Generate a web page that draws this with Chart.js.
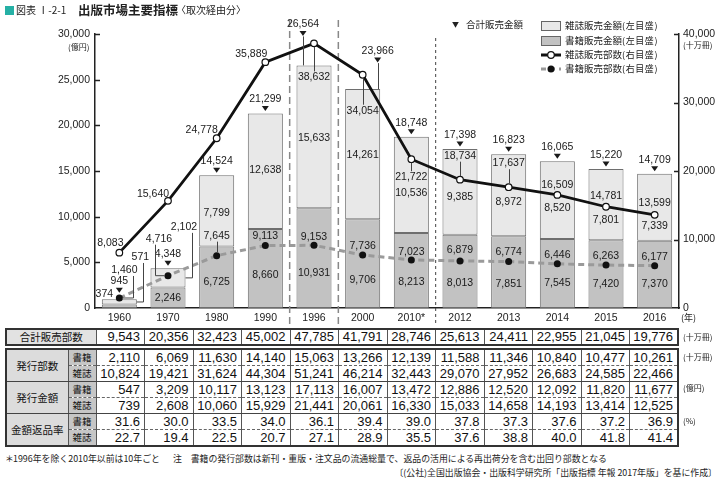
<!DOCTYPE html>
<html lang="ja">
<head>
<meta charset="utf-8">
<script src="https://cdn.jsdelivr.net/npm/chart.js@4/dist/chart.umd.min.js"></script>
<style>
  body { margin: 0; background: #fff; color: #222; font-family: 'Liberation Sans', Arial, 'Noto Sans CJK JP', sans-serif; }
  #wrap { position: relative; width: 720px; height: 481px; overflow: hidden; }
  #chartBox { position: absolute; left: 0; top: 0; width: 720px; height: 326px; }
  .abs { position: absolute; white-space: nowrap; }
  .jp { font-family: 'Noto Sans CJK JP', sans-serif; }
  .tbl { position: absolute; left: 5px; width: 674px; border-collapse: collapse; table-layout: fixed; border: 2px solid #333; font-size: 13px; color: #111; }
  .tbl td { border-left: 1px solid #555; text-align: right; padding: 0 4px 0 0; height: 15px; line-height: 15px; overflow: hidden; }
  .tbl th { font-family: 'Noto Sans CJK JP', sans-serif; font-weight: normal; padding: 0; height: 15px; line-height: 15px; border-left: 1px solid #555; overflow: hidden; }
  #t1 td, #t1 th { height: 14px; line-height: 14px; }
  .tbl th.hd { background: #dcdcdc; font-size: 10.5px; text-align: center; }
  #t1 th.hd { background: #e2e2e2; }
  .tbl th.sub { background: #c6c6c6; font-size: 9.5px; text-align: center; }
  .tbl tr.r1 td, .tbl tr.r1 th.sub { border-bottom: 1px dashed #666; }
  .tbl tr.r2 td, .tbl tr.r2 th, .tbl th.hd { border-bottom: 1px solid #444; }
  .unit { font-family: 'Noto Sans CJK JP', sans-serif; font-size: 8px; line-height: 12px; }
  .leg { font-family: 'Noto Sans CJK JP', sans-serif; font-size: 9.5px; line-height: 13px; }
  .leg small { font-size: 9px; letter-spacing: 0.6px; }
  .note { font-family: 'Noto Sans CJK JP', sans-serif; font-size: 8.9px; line-height: 12px; }
</style>
</head>
<body>
<div id="wrap">
  <div id="chartBox"><canvas id="mainChart"></canvas></div>

  <!-- title -->
  <div class="abs" style="left:5px;top:6px;width:9px;height:9px;background:#25b0a5"></div>
  <div class="abs jp" style="left:16px;top:2px;font-size:10px;line-height:16px">図表 Ⅰ-2-1</div>
  <div class="abs jp" style="left:78px;top:1px;font-size:12.5px;font-weight:bold;line-height:18px">出版市場主要指標</div>
  <div class="abs jp" style="left:176px;top:2px;font-size:10px;line-height:16px">〈取次経由分〉</div>

  <!-- axis units -->
  <div class="abs unit" style="left:68px;top:41px">(億円)</div>
  <div class="abs unit" style="left:683px;top:39px">(十万冊)</div>
  <div class="abs unit" style="left:681px;top:312px;font-size:9px">(年)</div>

  <!-- legend -->
  <div class="abs leg" style="left:452px;top:18px"><span style="font-size:7px;vertical-align:1px">▼</span><span style="margin-left:7px">合計販売金額</span></div>
  <div class="abs" style="left:541px;top:21px;width:18px;height:8px;border:1px solid #666;background:#e8e8e8"></div>
  <div class="abs" style="left:541px;top:36px;width:18px;height:8px;border:1px solid #666;background:#c2c2c2"></div>
  <svg class="abs" style="left:539px;top:49px" width="24" height="26">
    <line x1="2" y1="6" x2="22" y2="6" stroke="#111" stroke-width="3"/>
    <circle cx="12" cy="6" r="3.3" fill="#fff" stroke="#111" stroke-width="1.2"/>
    <line x1="2" y1="20" x2="22" y2="20" stroke="#999" stroke-width="3" stroke-dasharray="5,4"/>
    <circle cx="12" cy="20" r="3.5" fill="#111"/>
  </svg>
  <div class="abs leg" style="left:565px;top:19px">雑誌販売金額<small>(左目盛)</small></div>
  <div class="abs leg" style="left:565px;top:34px">書籍販売金額<small>(左目盛)</small></div>
  <div class="abs leg" style="left:565px;top:48px">雑誌販売部数<small>(右目盛)</small></div>
  <div class="abs leg" style="left:565px;top:62px">書籍販売部数<small>(右目盛)</small></div>

  <!-- tables -->
  <table id="t1" class="tbl" style="top:328px"></table>
  <table id="t2" class="tbl" style="top:348px"></table>
  <div class="abs unit" style="left:683px;top:331px">(十万冊)</div>
  <div class="abs unit" style="left:683px;top:351px">(十万冊)</div>
  <div class="abs unit" style="left:683px;top:382px">(億円)</div>
  <div class="abs unit" style="left:683px;top:415px">(%)</div>

  <!-- notes -->
  <div class="abs note" style="left:5px;top:453px">＊</div>
  <div class="abs note" style="left:13px;top:453px">1996年を除く2010年以前は10年ごと</div>
  <div class="abs note" style="left:173px;top:453px">注　書籍の発行部数は新刊・重版・注文品の流通総量で、返品の活用による再出荷分を含む出回り部数となる</div>
  <div class="abs note" style="right:3px;top:467px">〔(公社)全国出版協会・出版科学研究所「出版指標 年報 2017年版」を基に作成〕</div>
</div>

<script>
// ========= DATA =========
const years = ['1960', '1970', '1980', '1990', '1996', '2000', '2010*', '2012', '2013', '2014', '2015', '2016'];

// 億円 (left axis)
const bookSales = [374, 2246, 6725, 8660, 10931, 9706, 8213, 8013, 7851, 7545, 7420, 7370];
const magazineSales = [571, 2102, 7799, 12638, 15633, 14261, 10536, 9385, 8972, 8520, 7801, 7339];
const totalSales = [945, 4348, 14524, 21299, 26564, 23966, 18748, 17398, 16823, 16065, 15220, 14709];

// 十万冊 (right axis)
const magazineCopies = [8083, 15640, 24778, 35889, 38632, 34054, 21722, 18734, 17637, 16509, 14781, 13599];
const bookCopies = [1460, 4716, 7645, 9113, 9153, 7736, 7023, 6879, 6774, 6446, 6263, 6177];

// table rows
const totalCopies = [9543, 20356, 32423, 45002, 47785, 41791, 28746, 25613, 24411, 22955, 21045, 19776];
const issuedBooks = [2110, 6069, 11630, 14140, 15063, 13266, 12139, 11588, 11346, 10840, 10477, 10261];
const issuedMagazines = [10824, 19421, 31624, 44304, 51241, 46214, 32443, 29070, 27952, 26683, 24585, 22466];
const issuedBookValue = [547, 3209, 10117, 13123, 17113, 16007, 13472, 12886, 12520, 12092, 11820, 11677];
const issuedMagValue = [739, 2608, 10060, 15929, 21441, 20061, 16330, 15033, 14658, 14193, 13414, 12525];
const returnBook = ['31.6', '30.0', '33.5', '34.0', '36.1', '39.4', '39.0', '37.8', '37.3', '37.6', '37.2', '36.9'];
const returnMag = ['22.7', '19.4', '22.5', '20.7', '27.1', '28.9', '35.5', '37.6', '38.8', '40.0', '41.8', '41.4'];

// ========= LABEL PLACEMENT (pixel offsets from anchor, optional leader) =========
const totalMarkPos = [[0, -9], [0, -5], [0, -5], [0, -5], [-11, -32], [15, -29], [0, -5], [0, -5], [0, -5], [0, -5], [0, -5], [0, -5]];
const bookSalesPos = [[-15, -12], [0, 0], [0, 5], [0, 7], [0, 15], [0, 16], [0, 12], [0, 12], [0, 12], [0, 10], [0, 10], [0, 10]];
const magSalesPos = [[21, -45, 'L', 3], [16, -51, 'L', 8], [0, 2], [0, -1], [0, 1], [0, 1], [0, 8], [0, 5], [0, 7], [0, 8], [0, 16], [0, 19]];
const magCopiesPos = [[-9, -10], [-15, -7], [-15, -8], [-14, -8], [0, 34, 'V'], [0, 36, 'V'], [0, 18, 'V'], [0, -24, 'V'], [0, -24, 'V'], [0, -10], [0, -11], [0, -12]];
const bookCopiesPos = [[5, -28, 'L', 9], [-9, -37, 'L', -4], [0, -20, 'V'], [0, -9], [0, -8], [0, -9], [0, -8], [0, -11], [0, -9], [0, -9], [0, -9], [0, -9]];

const fmt = v => typeof v === 'number' ? v.toLocaleString('en-US') : v;

// ========= TABLES =========
function buildTables() {
    const cols = years.map(() => '<col>').join('');
    let h = '<colgroup><col style="width:90px">' + cols + '</colgroup>';
    h += '<tr><th class="hd">合計販売部数</th>' + totalCopies.map(v => `<td>${fmt(v)}</td>`).join('') + '</tr>';
    document.getElementById('t1').innerHTML = h;

    const groups = [
        ['発行部数', issuedBooks, issuedMagazines],
        ['発行金額', issuedBookValue, issuedMagValue],
        ['金額返品率', returnBook, returnMag]
    ];
    let h2 = '<colgroup><col style="width:62px"><col style="width:28px">' + cols + '</colgroup>';
    groups.forEach(g => {
        h2 += `<tr class="r1"><th rowspan="2" class="hd">${g[0]}</th><th class="sub">書籍</th>` +
            g[1].map(v => `<td>${fmt(v)}</td>`).join('') + '</tr>';
        h2 += `<tr class="r2"><th class="sub">雑誌</th>` +
            g[2].map(v => `<td>${fmt(v)}</td>`).join('') + '</tr>';
    });
    document.getElementById('t2').innerHTML = h2;
}

// ========= PLUGINS =========
const separators = {
    id: 'separators',
    beforeDatasetsDraw(chart) {
        const { ctx, scales: { x } } = chart;
        const mid = i => (x.getPixelForValue(i) + x.getPixelForValue(i + 1)) / 2;
        ctx.save();
        ctx.strokeStyle = '#888';
        ctx.lineWidth = 1.5;
        ctx.setLineDash([7, 4]);
        [3, 4].forEach(i => {
            ctx.beginPath();
            ctx.moveTo(mid(i), 20);
            ctx.lineTo(mid(i), 324);
            ctx.stroke();
        });
        ctx.strokeStyle = '#444';
        ctx.lineWidth = 1;
        ctx.setLineDash([3, 3]);
        ctx.beginPath();
        ctx.moveTo(mid(6), 38);
        ctx.lineTo(mid(6), 324);
        ctx.stroke();
        ctx.restore();
    }
};

const innerTicks = {
    id: 'innerTicks',
    afterDraw(chart) {
        const { ctx, scales: { y, y2 } } = chart;
        ctx.save();
        ctx.strokeStyle = '#222';
        ctx.lineWidth = 1.5;
        y.ticks.forEach(t => {
            if (!t.value) return;
            const py = Math.round(y.getPixelForValue(t.value)) + 0.5;
            ctx.beginPath();
            ctx.moveTo(y.right, py);
            ctx.lineTo(y.right + 5, py);
            ctx.stroke();
        });
        y2.ticks.forEach(t => {
            if (!t.value) return;
            const py = Math.round(y2.getPixelForValue(t.value)) + 0.5;
            ctx.beginPath();
            ctx.moveTo(y2.left - 5, py);
            ctx.lineTo(y2.left, py);
            ctx.stroke();
        });
        ctx.restore();
    }
};

function drawLeader(ctx, lx, ly, spec, ax, ay, tx) {
    if (!spec[2]) return;
    ctx.beginPath();
    if (spec[2] === 'V') {
        if (ay > ly) {
            ctx.moveTo(ax, ly + 6);
            ctx.lineTo(ax, ay - 3.5);
        } else {
            ctx.moveTo(ax, ay + 3.5);
            ctx.lineTo(ax, ly - 6);
        }
    } else {
        const vx = Math.round(lx + spec[3]) + 0.5;
        ctx.moveTo(vx, ly + 6);
        ctx.lineTo(vx, ay);
        ctx.lineTo(tx, ay);
    }
    ctx.stroke();
}

const valueLabels = {
    id: 'valueLabels',
    afterDatasetsDraw(chart) {
        const ctx = chart.ctx;
        const bookBars = chart.getDatasetMeta(0).data;
        const magBars = chart.getDatasetMeta(1).data;
        const magPts = chart.getDatasetMeta(2).data;
        const bookPts = chart.getDatasetMeta(3).data;
        ctx.save();
        ctx.font = '10.5px "Liberation Sans", Arial, sans-serif';
        ctx.fillStyle = '#1a1a1a';
        ctx.strokeStyle = '#444';
        ctx.lineWidth = 1;
        ctx.textAlign = 'center';
        ctx.textBaseline = 'middle';

        years.forEach((_, i) => {
            const bb = bookBars[i], mb = magBars[i];
            const cx = bb.x, half = bb.width / 2;

            // book sales (inside dark part)
            let s = bookSalesPos[i];
            let ay = (bb.y + bb.base) / 2;
            ctx.fillText(fmt(bookSales[i]), cx + s[0], ay + s[1]);

            // magazine sales (inside light part)
            s = magSalesPos[i];
            ay = (mb.y + mb.base) / 2;
            ctx.fillText(fmt(magazineSales[i]), cx + s[0], ay + s[1]);
            drawLeader(ctx, cx + s[0], ay + s[1], s, cx, ay, cx + half);

            // total with marker
            s = totalMarkPos[i];
            const top = mb.y, mx = cx + s[0], my = top + s[1];
            ctx.beginPath();
            ctx.moveTo(mx - 3.5, my - 2.5);
            ctx.lineTo(mx + 3.5, my - 2.5);
            ctx.lineTo(mx, my + 2.5);
            ctx.closePath();
            ctx.fill();
            if (s[1] < -12) {
                ctx.beginPath();
                ctx.moveTo(Math.round(mx) + 0.5, my + 3);
                ctx.lineTo(Math.round(mx) + 0.5, top);
                ctx.stroke();
            }
            ctx.fillText(fmt(totalSales[i]), mx, my - 9);

            // magazine copies
            const mp = magPts[i];
            s = magCopiesPos[i];
            ctx.fillText(fmt(magazineCopies[i]), mp.x + s[0], mp.y + s[1]);
            drawLeader(ctx, mp.x + s[0], mp.y + s[1], s, Math.round(mp.x) + 0.5, mp.y, mp.x);

            // book copies
            const bp = bookPts[i];
            s = bookCopiesPos[i];
            const lx = bp.x + s[0];
            const tx = (s[3] || 0) + lx > bp.x ? bp.x + 3.5 : bp.x - 3.5;
            ctx.fillText(fmt(bookCopies[i]), lx, bp.y + s[1]);
            drawLeader(ctx, lx, bp.y + s[1], s, Math.round(bp.x) + 0.5, bp.y, tx);
        });
        ctx.restore();
    }
};

// ========= CHART =========
function initChart() {
    const ctx = document.getElementById('mainChart').getContext('2d');
    const tickFont = { family: '"Liberation Sans", Arial, sans-serif', size: 10.5 };

    new Chart(ctx, {
        type: 'bar',
        data: {
            labels: years,
            datasets: [
                {
                    label: '書籍販売金額',
                    data: bookSales,
                    backgroundColor: '#c2c2c2',
                    borderColor: '#6e6e6e',
                    borderWidth: 1,
                    borderSkipped: false,
                    yAxisID: 'y',
                    order: 2
                },
                {
                    label: '雑誌販売金額',
                    data: magazineSales,
                    backgroundColor: '#e8e8e8',
                    borderColor: '#6e6e6e',
                    borderWidth: 1,
                    borderSkipped: false,
                    yAxisID: 'y',
                    order: 2
                },
                {
                    type: 'line',
                    label: '雑誌販売部数',
                    data: magazineCopies,
                    borderColor: '#111',
                    borderWidth: 2.8,
                    pointRadius: 3.3,
                    pointBackgroundColor: '#fff',
                    pointBorderColor: '#111',
                    pointBorderWidth: 1.2,
                    tension: 0,
                    yAxisID: 'y2',
                    order: 0
                },
                {
                    type: 'line',
                    label: '書籍販売部数',
                    data: bookCopies,
                    borderColor: '#9a9a9a',
                    borderWidth: 3,
                    borderDash: [6, 4],
                    pointRadius: 3.5,
                    pointBackgroundColor: '#111',
                    pointBorderWidth: 0,
                    tension: 0,
                    yAxisID: 'y2',
                    order: 1
                }
            ]
        },
        options: {
            responsive: true,
            maintainAspectRatio: false,
            animation: false,
            datasets: {
                bar: { barPercentage: 0.72, categoryPercentage: 1 }
            },
            layout: { padding: { top: 34, left: 0, right: 0, bottom: 0 } },
            plugins: {
                legend: { display: false },
                tooltip: { enabled: false }
            },
            scales: {
                x: {
                    stacked: true,
                    grid: { display: false, drawTicks: false },
                    border: { display: true, color: '#222', width: 1.5 },
                    ticks: { color: '#222', font: tickFont, padding: 4, maxRotation: 0, autoSkip: false },
                    afterFit: s => { s.height = 18; }
                },
                y: {
                    stacked: true,
                    position: 'left',
                    min: 0,
                    max: 30000,
                    grid: { display: false, drawTicks: false },
                    border: { display: true, color: '#222', width: 1.5 },
                    ticks: {
                        stepSize: 5000,
                        color: '#222',
                        font: tickFont,
                        padding: 5,
                        callback: v => v.toLocaleString('en-US')
                    },
                    afterFit: s => { s.width = 95; }
                },
                y2: {
                    position: 'right',
                    min: 0,
                    max: 40000,
                    grid: { display: false, drawTicks: false },
                    border: { display: true, color: '#222', width: 1.5 },
                    ticks: {
                        stepSize: 10000,
                        color: '#222',
                        font: tickFont,
                        padding: 4,
                        callback: v => v.toLocaleString('en-US')
                    },
                    afterFit: s => { s.width = 41; }
                }
            }
        },
        plugins: [separators, valueLabels, innerTicks]
    });
}

document.addEventListener('DOMContentLoaded', () => {
    buildTables();
    initChart();
});
</script>
</body>
</html>
